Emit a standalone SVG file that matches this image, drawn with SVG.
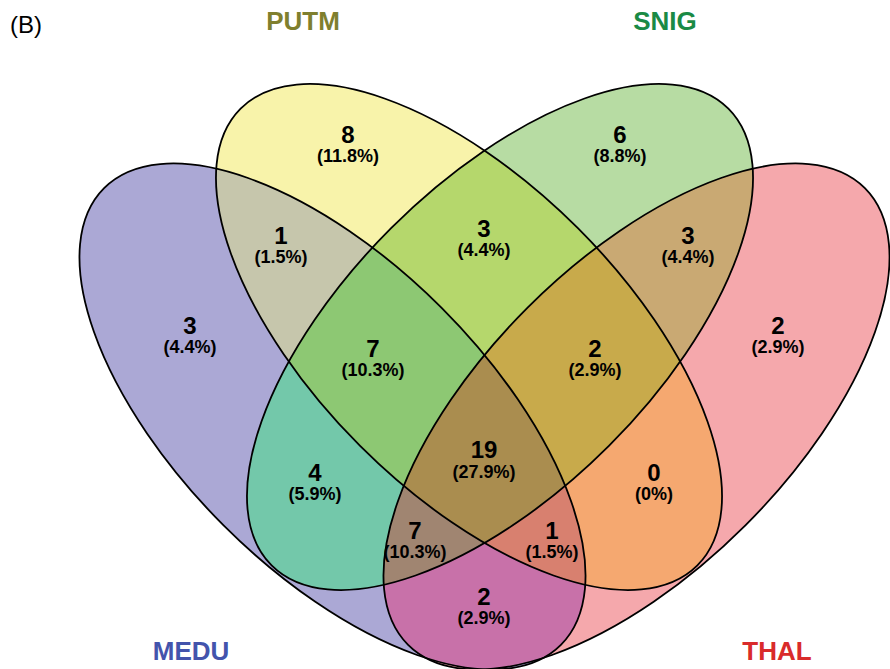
<svg xmlns="http://www.w3.org/2000/svg" xmlns:xlink="http://www.w3.org/1999/xlink" width="890" height="669" viewBox="0 0 890 669">
<style>
.out{fill:none;stroke:#000;stroke-width:1.8}
.n{font-family:"Liberation Sans",Arial,sans-serif;font-weight:bold;font-size:24px;text-anchor:middle;fill:#000}
.p{font-family:"Liberation Sans",Arial,sans-serif;font-weight:bold;font-size:18px;text-anchor:middle;fill:#000}
.lab{font-family:"Liberation Sans",Arial,sans-serif;font-weight:bold;font-size:26px;text-anchor:middle}
</style>
<defs>
<ellipse id="eB" cx="0" cy="0" rx="323" ry="154" transform="translate(332.5 416.5) rotate(45)"/>
<ellipse id="eY" cx="0" cy="0" rx="323" ry="154" transform="translate(469 337) rotate(45)"/>
<ellipse id="eG" cx="0" cy="0" rx="323" ry="154" transform="translate(500 337) rotate(-45)"/>
<ellipse id="eP" cx="0" cy="0" rx="323" ry="154" transform="translate(636.5 416.5) rotate(-45)"/>
<clipPath id="cB"><ellipse cx="0" cy="0" rx="323" ry="154" transform="translate(332.5 416.5) rotate(45)"/></clipPath>
<clipPath id="cY"><ellipse cx="0" cy="0" rx="323" ry="154" transform="translate(469 337) rotate(45)"/></clipPath>
<clipPath id="cG"><ellipse cx="0" cy="0" rx="323" ry="154" transform="translate(500 337) rotate(-45)"/></clipPath>
<clipPath id="cP"><ellipse cx="0" cy="0" rx="323" ry="154" transform="translate(636.5 416.5) rotate(-45)"/></clipPath>
</defs>
<rect width="890" height="669" fill="#fff"/>
<g id="regions">
<use href="#eB" fill="#aba8d5"/>
<use href="#eY" fill="#f8f3aa"/>
<use href="#eG" fill="#b7dca3"/>
<use href="#eP" fill="#f5a8ac"/>
<use href="#eY" fill="#c6c6ac" clip-path="url(#cB)"/>
<use href="#eG" fill="#73c8aa" clip-path="url(#cB)"/>
<use href="#eP" fill="#c871a9" clip-path="url(#cB)"/>
<use href="#eG" fill="#b5d76c" clip-path="url(#cY)"/>
<use href="#eP" fill="#f5a870" clip-path="url(#cY)"/>
<use href="#eP" fill="#c9a973" clip-path="url(#cG)"/>
<g clip-path="url(#cB)"><use href="#eG" fill="#8dc873" clip-path="url(#cY)"/></g>
<g clip-path="url(#cB)"><use href="#eP" fill="#d8806f" clip-path="url(#cY)"/></g>
<g clip-path="url(#cB)"><use href="#eP" fill="#a08571" clip-path="url(#cG)"/></g>
<g clip-path="url(#cY)"><use href="#eP" fill="#c8aa4b" clip-path="url(#cG)"/></g>
<g clip-path="url(#cB)"><g clip-path="url(#cY)"><use href="#eP" fill="#aa8d4f" clip-path="url(#cG)"/></g></g>
</g>
<g id="set-MEDU"><use href="#eB" class="out"/><text class="lab" x="191" y="660" fill="#4354ac">MEDU</text></g>
<g id="set-PUTM"><use href="#eY" class="out"/><text class="lab" x="303" y="30" fill="#7f7f2e">PUTM</text></g>
<g id="set-SNIG"><use href="#eG" class="out"/><text class="lab" x="665" y="30" fill="#1a8a45">SNIG</text></g>
<g id="set-THAL"><use href="#eP" class="out"/><text class="lab" x="777" y="660" fill="#d92b2b">THAL</text></g>
<text x="10" y="33" font-family="Liberation Sans, Arial, sans-serif" font-size="24" fill="#000">(B)</text>
<g id="counts">
<text class="n" x="348" y="143">8</text><text class="p" x="348" y="162">(11.8%)</text>
<text class="n" x="620" y="143">6</text><text class="p" x="620" y="162">(8.8%)</text>
<text class="n" x="281" y="244">1</text><text class="p" x="281" y="263">(1.5%)</text>
<text class="n" x="484" y="237">3</text><text class="p" x="484" y="256">(4.4%)</text>
<text class="n" x="688" y="244">3</text><text class="p" x="688" y="263">(4.4%)</text>
<text class="n" x="190" y="334">3</text><text class="p" x="190" y="353">(4.4%)</text>
<text class="n" x="778" y="334">2</text><text class="p" x="778" y="353">(2.9%)</text>
<text class="n" x="373" y="357">7</text><text class="p" x="373" y="376">(10.3%)</text>
<text class="n" x="595" y="357">2</text><text class="p" x="595" y="376">(2.9%)</text>
<text class="n" x="315" y="481">4</text><text class="p" x="315" y="500">(5.9%)</text>
<text class="n" x="484" y="458">19</text><text class="p" x="484" y="478">(27.9%)</text>
<text class="n" x="654" y="481">0</text><text class="p" x="654" y="500">(0%)</text>
<text class="n" x="415" y="539">7</text><text class="p" x="415" y="558">(10.3%)</text>
<text class="n" x="552" y="539">1</text><text class="p" x="552" y="558">(1.5%)</text>
<text class="n" x="484" y="605">2</text><text class="p" x="484" y="624">(2.9%)</text>
</g>
</svg>
